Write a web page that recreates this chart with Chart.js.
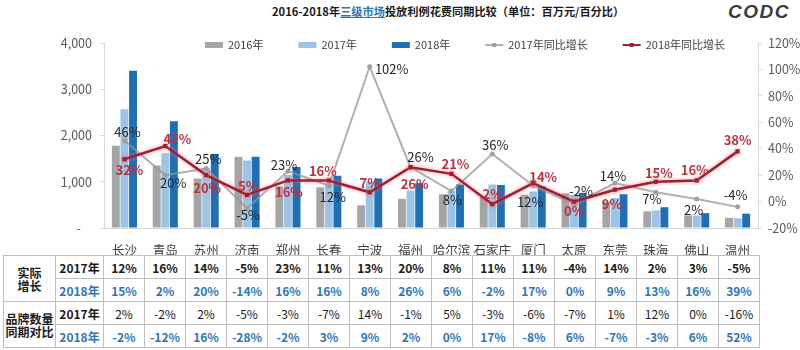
<!DOCTYPE html>
<html lang="zh-CN">
<head>
<meta charset="UTF-8">
<title>2016-2018年三级市场投放利例花费同期比较</title>
<script src="https://cdn.jsdelivr.net/npm/chart.js@4.4.1/dist/chart.umd.min.js"></script>
<style>
  html, body { margin: 0; padding: 0; background: #fff; }
  body { width: 800px; height: 350px; position: relative; overflow: hidden; font-family: "Noto Sans CJK SC", sans-serif; }
  #title { position: absolute; left: 272px; top: 3px; font-size: 11.2px; font-weight: bold; color: #1a1a1a; white-space: nowrap; }
  #title .hl { color: #2f75b5; text-decoration: underline; }
  #logo { position: absolute; left: 728px; top: 1px; font: italic bold 19px "Liberation Sans", sans-serif; color: #3c3c3c; letter-spacing: 1.5px; }
  #spendChart { position: absolute; left: 0; top: 0; }
  #growth-table { position: absolute; left: 3px; top: 255px; border-collapse: collapse; table-layout: fixed; }
  #growth-table td { border: 1px solid #bfbfbf; height: 22px; padding: 0; text-align: center; font-size: 12px; color: #1a1a1a; white-space: nowrap; }
  #growth-table td.head { line-height: 13px; font-weight: bold; }
  #growth-table td.b { font-weight: bold; }
  #growth-table td.blue { color: #2e75b6; font-weight: bold; }
</style>
</head>
<body>
<div id="title">2016-2018年<span class="hl">三级市场</span>投放利例花费同期比较（单位：百万元/百分比）</div>
<div id="logo">CODC</div>
<canvas id="spendChart" width="800" height="255"></canvas>
<table id="growth-table">
  <colgroup>
    <col style="width:52px"><col style="width:48px">
  </colgroup>
  <tbody></tbody>
</table>
<script>
// 城市
const cities = ["长沙", "青岛", "苏州", "济南", "郑州", "长春", "宁波", "福州", "哈尔滨", "石家庄", "厦门", "太原", "东莞", "珠海", "佛山", "温州"];

// 投放花费（百万元）
const spend2016 = [1780, 1350, 1070, 1540, 900, 880, 490, 630, 730, 680, 720, 750, 570, 360, 270, 220];
const spend2017 = [2570, 1620, 1300, 1460, 1150, 970, 1000, 810, 800, 940, 790, 720, 650, 380, 270, 210];
const spend2018 = [3400, 2310, 1600, 1540, 1320, 1130, 1070, 970, 940, 930, 900, 760, 730, 450, 320, 310];

// 同比增长（%）
const yoy2017 = [46, 20, 25, -5, 23, 12, 102, 26, 8, 36, 12, -2, 14, 7, 2, -4];
const yoy2018 = [32, 42, 20, 5, 16, 16, 7, 26, 21, -2, 14, 0, 9, 15, 16, 38];

// 坐标轴刻度
const spendTicks = [0, 1000, 2000, 3000, 4000];
const pctTicks = [-20, 0, 20, 40, 60, 80, 100, 120];

// 表格：实际增长 / 品牌数量同期对比（%）
const realGrowth2017 = [12, 16, 14, -5, 23, 11, 13, 20, 8, 11, 11, -4, 14, 2, 3, -5];
const realGrowth2018 = [15, 2, 20, -14, 16, 16, 8, 26, 6, -2, 17, 0, 9, 13, 16, 39];
const brandGrowth2017 = [2, -2, 2, -5, -3, -7, 14, -1, 5, -3, -6, -7, 1, 12, 0, -16];
const brandGrowth2018 = [-2, -12, 16, -28, -2, 3, 9, 2, 0, 17, -8, 6, -7, -3, 6, 52];

// 折线数值标签相对点的偏移 [dx, dy]
const offsets2017 = [[3, -9], [8, 8], [2, -9], [1, 7], [-4, -6], [4, 11], [22, 2], [10, -10],
                     [1, 9], [3, -9], [-3, 16], [7, -13], [-2, -7], [-4, 7], [-3, 11], [-2, -12]];
const offsets2018 = [[5, 11], [12, -7], [1, 13], [1, -9], [1, 12], [-6, -9], [0, -9], [4, 17],
                     [4, -10], [-2, -10], [10, -6], [0, 9], [-3, 14], [3, -9], [-2, -10], [0, -11]];

Chart.defaults.font.family = '"Noto Sans CJK SC", sans-serif';
Chart.defaults.font.size = 12;
Chart.defaults.color = '#404040';

// 顶部图例（画在绘图区内）
const topLegend = {
  id: 'topLegend',
  afterDraw(chart) {
    const ctx = chart.ctx;
    let x = 205;
    const y = 45;
    ctx.save();
    ctx.font = '11px "Noto Sans CJK SC"';
    ctx.textBaseline = 'middle';
    chart.data.datasets.forEach(ds => {
      if (ds.type === 'line') {
        ctx.strokeStyle = ds.borderColor;
        ctx.lineWidth = 2;
        ctx.beginPath();
        ctx.moveTo(x, y);
        ctx.lineTo(x + 18, y);
        ctx.stroke();
        ctx.fillStyle = ds.pointBackgroundColor;
        ctx.fillRect(x + 7, y - 2, 4, 4);
      } else {
        ctx.fillStyle = ds.backgroundColor;
        ctx.fillRect(x, y - 3, 18, 6);
      }
      ctx.fillStyle = '#404040';
      ctx.fillText(ds.label, x + 23, y);
      x += 23 + ctx.measureText(ds.label).width + 35;
    });
    ctx.restore();
  }
};

// 折线数值标签
const valueLabels = {
  id: 'valueLabels',
  afterDatasetsDraw(chart, args, opts) {
    const ctx = chart.ctx;
    ctx.save();
    ctx.textAlign = 'center';
    ctx.textBaseline = 'middle';
    opts.sets.forEach(set => {
      const meta = chart.getDatasetMeta(set.index);
      const values = chart.data.datasets[set.index].data;
      ctx.font = set.font;
      ctx.fillStyle = set.color;
      meta.data.forEach((pt, i) => {
        const [dx, dy] = set.offsets[i];
        ctx.fillText(values[i] + '%', pt.x + dx, pt.y + dy);
      });
    });
    ctx.restore();
  }
};

// 红线外发光
const lineGlow = {
  id: 'lineGlow',
  beforeDatasetDraw(chart, args) {
    if (args.index === 4) {
      chart.ctx.save();
      chart.ctx.shadowColor = 'rgba(235, 120, 130, 0.8)';
      chart.ctx.shadowBlur = 4;
    }
  },
  afterDatasetDraw(chart, args) {
    if (args.index === 4) chart.ctx.restore();
  }
};

new Chart(document.getElementById('spendChart'), {
  data: {
    labels: cities,
    datasets: [
      { type: 'bar', label: '2016年', data: spend2016, backgroundColor: '#a5a5a5', yAxisID: 'y', order: 2 },
      { type: 'bar', label: '2017年', data: spend2017, backgroundColor: '#9dc3e6', yAxisID: 'y', order: 2 },
      { type: 'bar', label: '2018年', data: spend2018, backgroundColor: '#1f6fb4', yAxisID: 'y', order: 2 },
      {
        type: 'line', label: '2017年同比增长', data: yoy2017, yAxisID: 'y1', order: 1,
        borderColor: 'rgba(150, 150, 150, 0.75)', borderWidth: 2, tension: 0,
        pointStyle: 'circle', pointRadius: 2.5, pointBackgroundColor: '#a0a0a0', pointBorderWidth: 0
      },
      {
        type: 'line', label: '2018年同比增长', data: yoy2018, yAxisID: 'y1', order: 0,
        borderColor: '#9e1f2f', borderWidth: 2.5, tension: 0,
        pointStyle: 'rect', pointRadius: 3, pointBackgroundColor: '#9e1f2f', pointBorderWidth: 0
      }
    ]
  },
  options: {
    responsive: false,
    animation: false,
    devicePixelRatio: 1,
    layout: { padding: { top: 43, left: 0, right: 0, bottom: 0 } },
    datasets: { bar: { categoryPercentage: 0.63, barPercentage: 0.92 } },
    plugins: {
      legend: { display: false },
      tooltip: { enabled: false },
      valueLabels: {
        sets: [
          { index: 3, offsets: offsets2017, color: '#262626', font: '13px "Noto Sans CJK SC"' },
          { index: 4, offsets: offsets2018, color: '#c0303c', font: 'bold 13px "Noto Sans CJK SC"' }
        ]
      }
    },
    scales: {
      x: {
        grid: { display: false },
        border: { color: '#d9d9d9' },
        ticks: { color: '#404040', font: { size: 12.5 }, padding: 7, autoSkip: false, maxRotation: 0 },
        afterFit(scale) { scale.height = 27; }
      },
      y: {
        position: 'left', min: 0, max: 4000,
        afterBuildTicks(scale) { scale.ticks = spendTicks.map(v => ({ value: v })); },
        grid: { drawOnChartArea: false, tickLength: 4, color: '#d9d9d9' },
        border: { color: '#d9d9d9' },
        ticks: {
          color: '#595959', font: { size: 12.5 }, padding: 8,
          callback: v => v === 0 ? '-    ' : v.toLocaleString('en-US')
        },
        afterFit(scale) { scale.width = 104; }
      },
      y1: {
        position: 'right', min: -20, max: 120,
        afterBuildTicks(scale) { scale.ticks = pctTicks.map(v => ({ value: v })); },
        grid: { drawOnChartArea: false, tickLength: 4, color: '#d9d9d9' },
        border: { color: '#d9d9d9' },
        ticks: { color: '#595959', font: { size: 12.5 }, padding: 6, callback: v => v + '%' },
        afterFit(scale) { scale.width = 42; }
      }
    }
  },
  plugins: [topLegend, valueLabels, lineGlow]
});

// 表格
const colgroup = document.querySelector('#growth-table colgroup');
cities.forEach(() => {
  const col = document.createElement('col');
  col.style.width = '41px';
  colgroup.appendChild(col);
});

const pct = v => v + '%';
const cells = (arr, cls) => arr.map(v => `<td class="${cls}">${pct(v)}</td>`).join('');
const tableBody = document.querySelector('#growth-table tbody');
tableBody.innerHTML = `
  <tr><td class="head" rowspan="2">实际<br>增长</td><td class="b">2017年</td>${cells(realGrowth2017, 'b')}</tr>
  <tr><td class="blue">2018年</td>${cells(realGrowth2018, 'blue')}</tr>
  <tr><td class="head" rowspan="2">品牌数量<br>同期对比</td><td class="b">2017年</td>${cells(brandGrowth2017, '')}</tr>
  <tr><td class="blue">2018年</td>${cells(brandGrowth2018, 'blue')}</tr>
`;
</script>
</body>
</html>
